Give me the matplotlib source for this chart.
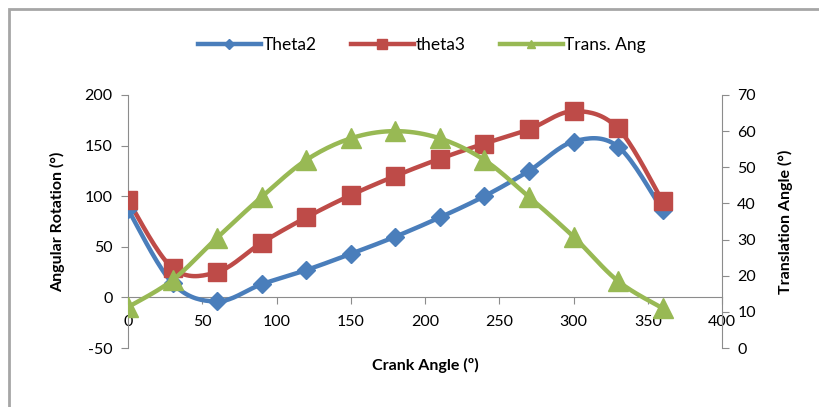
import numpy as np
import matplotlib.pyplot as plt
from matplotlib.patches import Rectangle

plt.rcParams['font.family'] = ['Lato', 'DejaVu Sans']
plt.rcParams['axes.unicode_minus'] = False

crank = [0, 30, 60, 90, 120, 150, 180, 210, 240, 270, 300, 330, 360]
theta2 = [87, 14, -4, 13, 27, 43, 60, 79, 100, 125, 154, 149, 86]
theta3 = [96, 29, 25, 54, 79, 101, 120, 137, 152, 166, 184, 167, 95]
trans_ang = [11.3, 18.8, 30.5, 41.8, 52, 58, 60, 58, 52, 41.8, 30.8, 18.5, 11]

blue = '#4A7EBB'
red = '#BE4B48'
green = '#98B954'


def smooth(xs, ys, n=20):
    # excel-like smoothed line (catmull-rom bezier)
    x = np.array(xs, float)
    y = np.array(ys, float)
    px = np.concatenate([[x[0]], x, [x[-1]]])
    py = np.concatenate([[y[0]], y, [y[-1]]])
    ox, oy = [], []
    for i in range(1, len(px) - 2):
        p0 = np.array([px[i - 1], py[i - 1]])
        p1 = np.array([px[i], py[i]])
        p2 = np.array([px[i + 1], py[i + 1]])
        p3 = np.array([px[i + 2], py[i + 2]])
        c1 = p1 + (p2 - p0) / 6
        c2 = p2 - (p3 - p1) / 6
        t = np.linspace(0, 1, n)[:, None]
        pts = ((1 - t) ** 3) * p1 + 3 * ((1 - t) ** 2) * t * c1 + 3 * (1 - t) * t ** 2 * c2 + t ** 3 * p2
        ox.extend(pts[:, 0])
        oy.extend(pts[:, 1])
    return ox, oy


fig = plt.figure(figsize=(8.19, 4.07), dpi=100)
fig.patches.append(Rectangle((9 / 819, -0.1), 1.2, 1 - 9 / 407 + 0.1, transform=fig.transFigure,
                             fill=False, edgecolor='#A6A6A6', linewidth=2))
ax = fig.add_axes([128 / 819, 1 - 348 / 407, 594 / 819, 253 / 407])
ax2 = ax.twinx()

lw = 3.2
sx, sy = smooth(crank, theta2)
ax.plot(sx, sy, color=blue, lw=lw, zorder=3)
ax.plot(crank, theta2, 'D', color=blue, ms=9, zorder=4)
sx, sy = smooth(crank, theta3)
ax.plot(sx, sy, color=red, lw=lw, zorder=3)
ax.plot(crank, theta3, 's', color=red, ms=13, zorder=4)
sx, sy = smooth(crank, trans_ang)
ax2.plot(sx, sy, color=green, lw=lw, zorder=3)
ax2.plot(crank, trans_ang, '^', color=green, ms=14, zorder=4)

ax.set_xlim(0, 400)
ax.set_ylim(-50, 200)
ax2.set_ylim(0, 70)
ax.set_xticks(range(0, 401, 50))
ax.set_yticks(range(-50, 201, 50))
ax2.set_yticks(range(0, 71, 10))

for a in (ax, ax2):
    a.spines['top'].set_visible(False)
    for s in a.spines.values():
        s.set_color('#8C8C8C')
ax.spines['bottom'].set_position(('data', 0))
ax.spines['right'].set_visible(False)
ax2.spines['left'].set_visible(False)
ax2.spines['bottom'].set_visible(False)

fs = 11.5
ax.tick_params(axis='x', direction='out', length=5, color='#8C8C8C', labelsize=fs, pad=8)
ax.tick_params(axis='y', direction='out', length=5, color='#8C8C8C', labelsize=fs, pad=6)
ax2.tick_params(axis='y', direction='out', length=5, color='#8C8C8C', labelsize=fs, pad=6)

ax.set_ylabel('Angular Rotation (°)', fontsize=fs, fontweight='bold', labelpad=14)
ax2.set_ylabel('Translation Angle (°)', fontsize=fs, fontweight='bold', labelpad=16)
fig.text(425 / 819, 1 - 365 / 407, 'Crank Angle (º)', ha='center', va='center',
         fontsize=fs, fontweight='bold')

h1, = ax.plot([], [], color=blue, lw=lw, marker='D', ms=5)
h2, = ax.plot([], [], color=red, lw=lw, marker='s', ms=7)
h3, = ax.plot([], [], color=green, lw=lw, marker='^', ms=6)
fig.legend([h1, h2, h3], ['Theta2', 'theta3', 'Trans. Ang'], loc='center',
           bbox_to_anchor=(422 / 819, 1 - 45 / 407), ncol=3, frameon=False,
           fontsize=12.5, handlelength=3.6, handletextpad=0.1, columnspacing=2.0)

fig.savefig('out.png', dpi=100)
